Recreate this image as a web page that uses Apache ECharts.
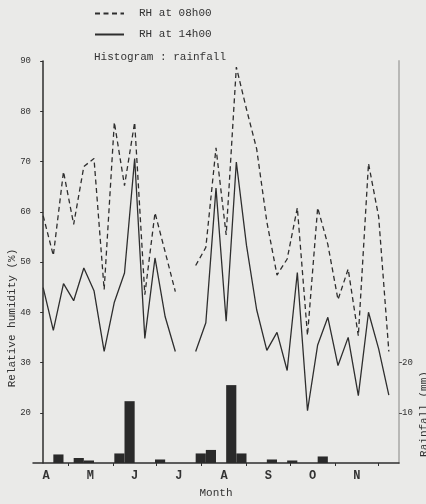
<!DOCTYPE html>
<html>
<head>
<meta charset="utf-8">
<script src="https://cdn.jsdelivr.net/npm/echarts@6/dist/echarts.min.js"></script>
<style>
  html, body { margin: 0; padding: 0; background: #eaeae8; }
  #chart { width: 426px; height: 504px; }
</style>
</head>
<body>
<div id="chart"></div>
<script>
// weekly values, week 0 = mid April ... week 34 = end of November
var rh08 = [59.2, 51.3, 68.0, 57.5, 69.0, 70.6, 44.5, 77.8, 65.2, 77.8, 43.5, 59.8, 52.0, 44.1, null,
            49.3, 52.9, 72.7, 55.4, 88.8, 80.4, 72.5, 58.0, 47.4, 50.6, 60.8, 35.4, 60.8, 53.5, 42.5,
            48.6, 35.3, 69.6, 59.0, 32.2];
var rh14 = [44.9, 36.4, 45.7, 42.3, 48.8, 44.3, 32.2, 42.0, 47.8, 70.6, 34.8, 50.8, 39.1, 32.2, null,
            32.2, 37.9, 64.7, 38.2, 69.9, 53.3, 40.5, 32.4, 36.0, 28.4, 47.9, 20.4, 33.5, 39.0, 29.4,
            35.0, 23.4, 40.0, 32.7, 23.5];
var rainfall = [0, 1.7, 0, 1.0, 0.5, 0, 0, 1.9, 12.3, 0, 0, 0.7, 0, 0, 0,
                1.9, 2.6, 0, 15.5, 1.9, 0, 0, 0.7, 0, 0.5, 0, 0, 1.3, 0, 0,
                0, 0, 0, 0, 0];

var monthLabels = ['A', 'M', 'J', 'J', 'A', 'S', 'O', 'N'];
var monthStartDay = [0, 30, 61, 91, 122, 153, 183, 214, 244]; // Apr 1 .. Dec 1
var firstObsDay = 13;
var rhTicks = [20, 30, 40, 50, 60, 70, 80, 90];
var rainTicks = [10, 20];

function dayToWeek(d) { return (d - firstObsDay) / 7; }
var monthTicks = monthStartDay.slice(1).map(dayToWeek);
var monthCenters = [];
for (var i = 0; i < monthLabels.length; i++) {
  monthCenters.push((dayToWeek(monthStartDay[i]) + dayToWeek(monthStartDay[i + 1])) / 2);
}

var FONT = '"Liberation Mono", monospace';
var INK = '#2e2e2e';

var chart = echarts.init(document.getElementById('chart'));

var option = {
  backgroundColor: '#eaeae8',
  animation: false,
  title: {
    text: 'Histogram : rainfall',
    left: 94, top: 52, padding: 0,
    textStyle: { fontFamily: FONT, fontSize: 11, fontWeight: 'normal', color: '#333' }
  },
  legend: {
    data: ['RH at 08h00', 'RH at 14h00'],
    orient: 'vertical',
    left: 94, top: 8, padding: 0,
    itemWidth: 29, itemHeight: 12, itemGap: 10,
    itemStyle: { opacity: 0 },
    textStyle: { fontFamily: FONT, fontSize: 11, color: '#333', padding: [0, 0, 0, 10] }
  },
  grid: { left: 33, right: 27, top: 61, bottom: 36 },
  xAxis: {
    type: 'value',
    min: -1, max: 35,
    name: 'Month',
    nameLocation: 'middle',
    nameGap: 25,
    nameTextStyle: { fontFamily: FONT, fontSize: 11, color: '#333' },
    splitLine: { show: false },
    axisLine: { lineStyle: { color: INK, width: 1.5 } },
    axisTick: { customValues: monthTicks, length: 3, lineStyle: { color: INK } },
    axisLabel: {
      customValues: monthCenters,
      margin: 7,
      fontFamily: FONT, fontSize: 12, fontWeight: 'bold', color: '#333',
      formatter: function (v) {
        var best = 0;
        for (var j = 0; j < monthCenters.length; j++) {
          if (Math.abs(monthCenters[j] - v) < Math.abs(monthCenters[best] - v)) best = j;
        }
        return monthLabels[best];
      }
    }
  },
  yAxis: [
    {
      type: 'value', min: 10, max: 90, position: 'left',
      splitLine: { show: false },
      axisLine: { show: true, lineStyle: { color: INK, width: 1.5 } },
      axisTick: { show: true, customValues: rhTicks, length: 3, lineStyle: { color: INK } },
      axisLabel: { customValues: rhTicks, margin: 2, fontFamily: FONT, fontSize: 9, color: '#333' }
    },
    {
      type: 'value', min: 0, max: 80, position: 'right',
      splitLine: { show: false },
      axisLine: { show: true, lineStyle: { color: '#b8b8b6', width: 2 } },
      axisTick: { show: true, customValues: rainTicks, length: 3, inside: false, lineStyle: { color: '#555' } },
      axisLabel: { customValues: rainTicks, margin: 3, fontFamily: FONT, fontSize: 9, color: '#333' }
    }
  ],
  graphic: [
    {
      type: 'text', x: 12, y: 318, rotation: Math.PI / 2,
      style: { text: 'Relative humidity (%)', align: 'center', verticalAlign: 'middle',
               font: '11px "Liberation Mono"', fill: '#333' }
    },
    {
      type: 'text', x: 424, y: 414, rotation: Math.PI / 2,
      style: { text: 'Rainfall (mm)', align: 'center', verticalAlign: 'middle',
               font: '11px "Liberation Mono"', fill: '#333' }
    }
  ],
  series: [
    {
      name: 'Rainfall',
      type: 'custom',
      yAxisIndex: 1,
      data: rainfall.map(function (v, i) { return [i, v]; }),
      renderItem: function (params, api) {
        var v = api.value(1);
        if (!v) return null;
        var top = api.coord([api.value(0), v]);
        var base = api.coord([api.value(0) + 1, 0]);
        return {
          type: 'rect',
          shape: { x: top[0], y: top[1], width: base[0] - top[0], height: base[1] - top[1] },
          style: { fill: '#2a2a2a' }
        };
      },
      z: 1
    },
    {
      name: 'RH at 08h00',
      type: 'line',
      data: rh08.map(function (v, i) { return [i, v]; }),
      symbol: 'none',
      connectNulls: false,
      lineStyle: { color: INK, width: 1.3, type: [5, 3.5] },
      itemStyle: { color: INK },
      z: 3
    },
    {
      name: 'RH at 14h00',
      type: 'line',
      data: rh14.map(function (v, i) { return [i, v]; }),
      symbol: 'none',
      connectNulls: false,
      lineStyle: { color: INK, width: 1.3 },
      itemStyle: { color: INK },
      z: 3
    }
  ]
};

chart.setOption(option);
</script>
</body>
</html>
